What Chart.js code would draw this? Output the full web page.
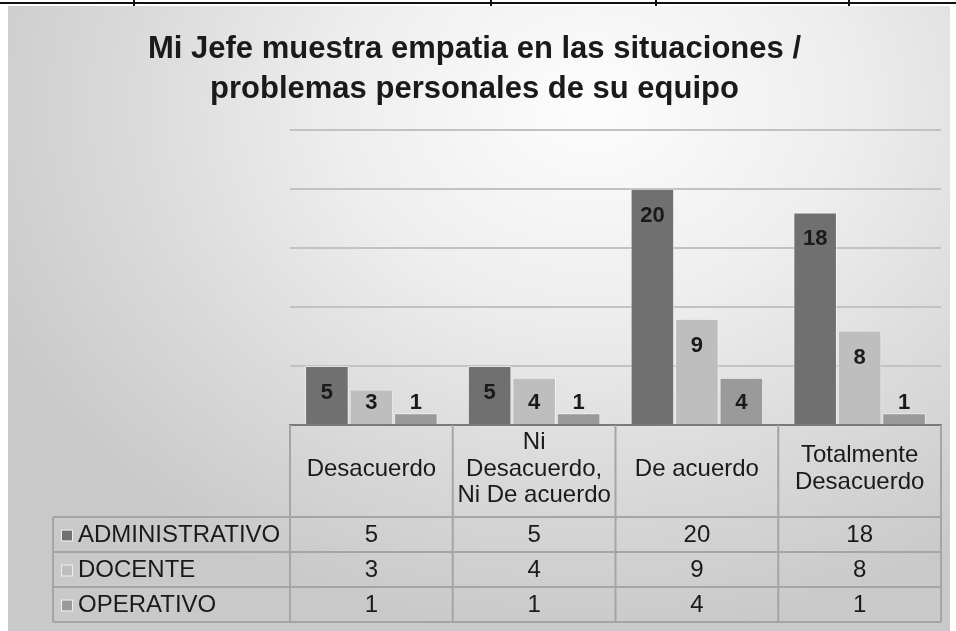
<!DOCTYPE html>
<html>
<head>
<meta charset="utf-8">
<script src="https://cdn.jsdelivr.net/npm/chart.js@4"></script>
<style>
  html, body { margin: 0; padding: 0; background: #fff; }
  body { width: 956px; height: 631px; overflow: hidden; position: relative; }
  .rule { position: absolute; left: 0; top: 2px; width: 956px; height: 2px; background: #111; }
  .tick { position: absolute; top: 0; width: 2px; height: 6px; background: #111; }
  #frame {
    position: absolute; left: 8px; top: 6px; width: 942px; height: 625px;
    background: radial-gradient(ellipse 70% 85% at 62% 16%, #fdfdfd 0%, #eeeeee 38%, #dadada 70%, #c9c9c9 100%);
  }
</style>
</head>
<body>
<div class="rule"></div>
<div class="tick" style="left:133px"></div>
<div class="tick" style="left:490px"></div>
<div class="tick" style="left:655px"></div>
<div class="tick" style="left:848px"></div>
<div id="frame"><canvas id="chart"></canvas></div>
<script>
// chart data
const categories = [['Desacuerdo'], ['Ni', 'Desacuerdo,', 'Ni De acuerdo'], ['De acuerdo'], ['Totalmente', 'Desacuerdo']];
const seriesNames = ['ADMINISTRATIVO', 'DOCENTE', 'OPERATIVO'];
const administrativo = [5, 5, 20, 18];
const docente = [3, 4, 9, 8];
const operativo = [1, 1, 4, 1];
const yMax = 25;
const yStep = 5;

const titleLines = ['Mi Jefe muestra empatia en las situaciones /', 'problemas personales de su equipo'];
const seriesColors = ['#707070', '#bebebe', '#9a9a9a'];
const FONT = '"Liberation Sans", Arial, sans-serif';
const TEXT = '#1a1a1a';

// value labels on top part of each bar
const barLabels = {
    id: 'barLabels',
    afterDatasetsDraw(chart) {
        const ctx = chart.ctx;
        ctx.save();
        ctx.font = 'bold 22px ' + FONT;
        ctx.fillStyle = TEXT;
        ctx.textAlign = 'center';
        ctx.textBaseline = 'middle';
        chart.data.datasets.forEach((ds, di) => {
            chart.getDatasetMeta(di).data.forEach((el, i) => {
                const y = Math.min(el.y + 27, el.base - 21);
                ctx.fillText(String(ds.data[i]), el.x, y);
            });
        });
        ctx.restore();
    }
};

// data table under the plot, columns follow the x scale
const dataTable = {
    id: 'dataTable',
    afterDraw(chart) {
        const ctx = chart.ctx;
        const ca = chart.chartArea;
        const xs = chart.scales.x;
        const n = categories.length;
        const catW = (ca.right - ca.left) / n;
        const headTop = ca.bottom;
        const headBottom = headTop + 92;
        const rowH = 35;
        const rows = chart.data.datasets.length;
        const tableBottom = headBottom + rowH * rows;
        const legendLeft = 45;

        ctx.save();
        ctx.strokeStyle = '#a5a5a5';
        ctx.lineWidth = 2;
        ctx.beginPath();
        for (let i = 0; i <= n; i++) {
            const x = ca.left + i * catW;
            ctx.moveTo(x, headTop);
            ctx.lineTo(x, tableBottom);
        }
        ctx.moveTo(legendLeft, headBottom);
        ctx.lineTo(legendLeft, tableBottom);
        for (let r = 0; r <= rows; r++) {
            const y = headBottom + r * rowH;
            ctx.moveTo(legendLeft, y);
            ctx.lineTo(ca.right, y);
        }
        ctx.stroke();

        ctx.font = '24px ' + FONT;
        ctx.fillStyle = TEXT;
        ctx.textBaseline = 'middle';
        ctx.textAlign = 'center';

        // header (category names)
        const headMid = (headTop + headBottom) / 2 - 2;
        const lh = 26.5;
        categories.forEach((lines, i) => {
            const cx = xs.getPixelForValue(i);
            const y0 = headMid - (lines.length - 1) * lh / 2;
            lines.forEach((t, k) => ctx.fillText(t, cx, y0 + k * lh));
        });

        // series rows
        chart.data.datasets.forEach((ds, r) => {
            const cy = headBottom + r * rowH + rowH / 2 + 1;
            ctx.fillStyle = ds.backgroundColor;
            ctx.fillRect(54, cy - 5, 10, 10);
            ctx.strokeStyle = 'rgba(255,255,255,0.7)';
            ctx.lineWidth = 1;
            ctx.strokeRect(53.5, cy - 5.5, 11, 11);
            ctx.fillStyle = TEXT;
            ctx.textAlign = 'left';
            ctx.fillText(ds.label, 70, cy);
            ctx.textAlign = 'center';
            ds.data.forEach((v, i) => ctx.fillText(String(v), xs.getPixelForValue(i), cy));
        });
        ctx.restore();
    }
};

new Chart(document.getElementById('chart'), {
    type: 'bar',
    data: {
        labels: categories,
        datasets: [
            { label: seriesNames[0], data: administrativo, backgroundColor: seriesColors[0] },
            { label: seriesNames[1], data: docente, backgroundColor: seriesColors[1] },
            { label: seriesNames[2], data: operativo, backgroundColor: seriesColors[2] }
        ].map(d => Object.assign(d, {
            borderColor: 'rgba(255,255,255,0.55)',
            borderWidth: 1,
            categoryPercentage: 0.82,
            barPercentage: 0.98
        }))
    },
    options: {
        responsive: true,
        maintainAspectRatio: false,
        animation: false,
        layout: { padding: { left: 0, right: 9, top: 0, bottom: 0 } },
        plugins: {
            legend: { display: false },
            tooltip: { enabled: false },
            title: {
                display: true,
                text: titleLines,
                color: TEXT,
                font: { family: FONT, size: 31, weight: 'bold', lineHeight: 1.27 },
                padding: { top: 24, bottom: 21 }
            }
        },
        scales: {
            x: {
                ticks: { display: false },
                grid: { display: false, drawTicks: false },
                border: { display: true, color: '#7a7a7a', width: 2 },
                afterFit(scale) { scale.height = 206; }
            },
            y: {
                min: 0,
                max: yMax,
                ticks: { display: false, stepSize: yStep },
                grid: { color: '#c2c2c2', lineWidth: 2, drawTicks: false },
                border: { display: false },
                afterFit(scale) { scale.width = 282; }
            }
        }
    },
    plugins: [barLabels, dataTable]
});
</script>
</body>
</html>
